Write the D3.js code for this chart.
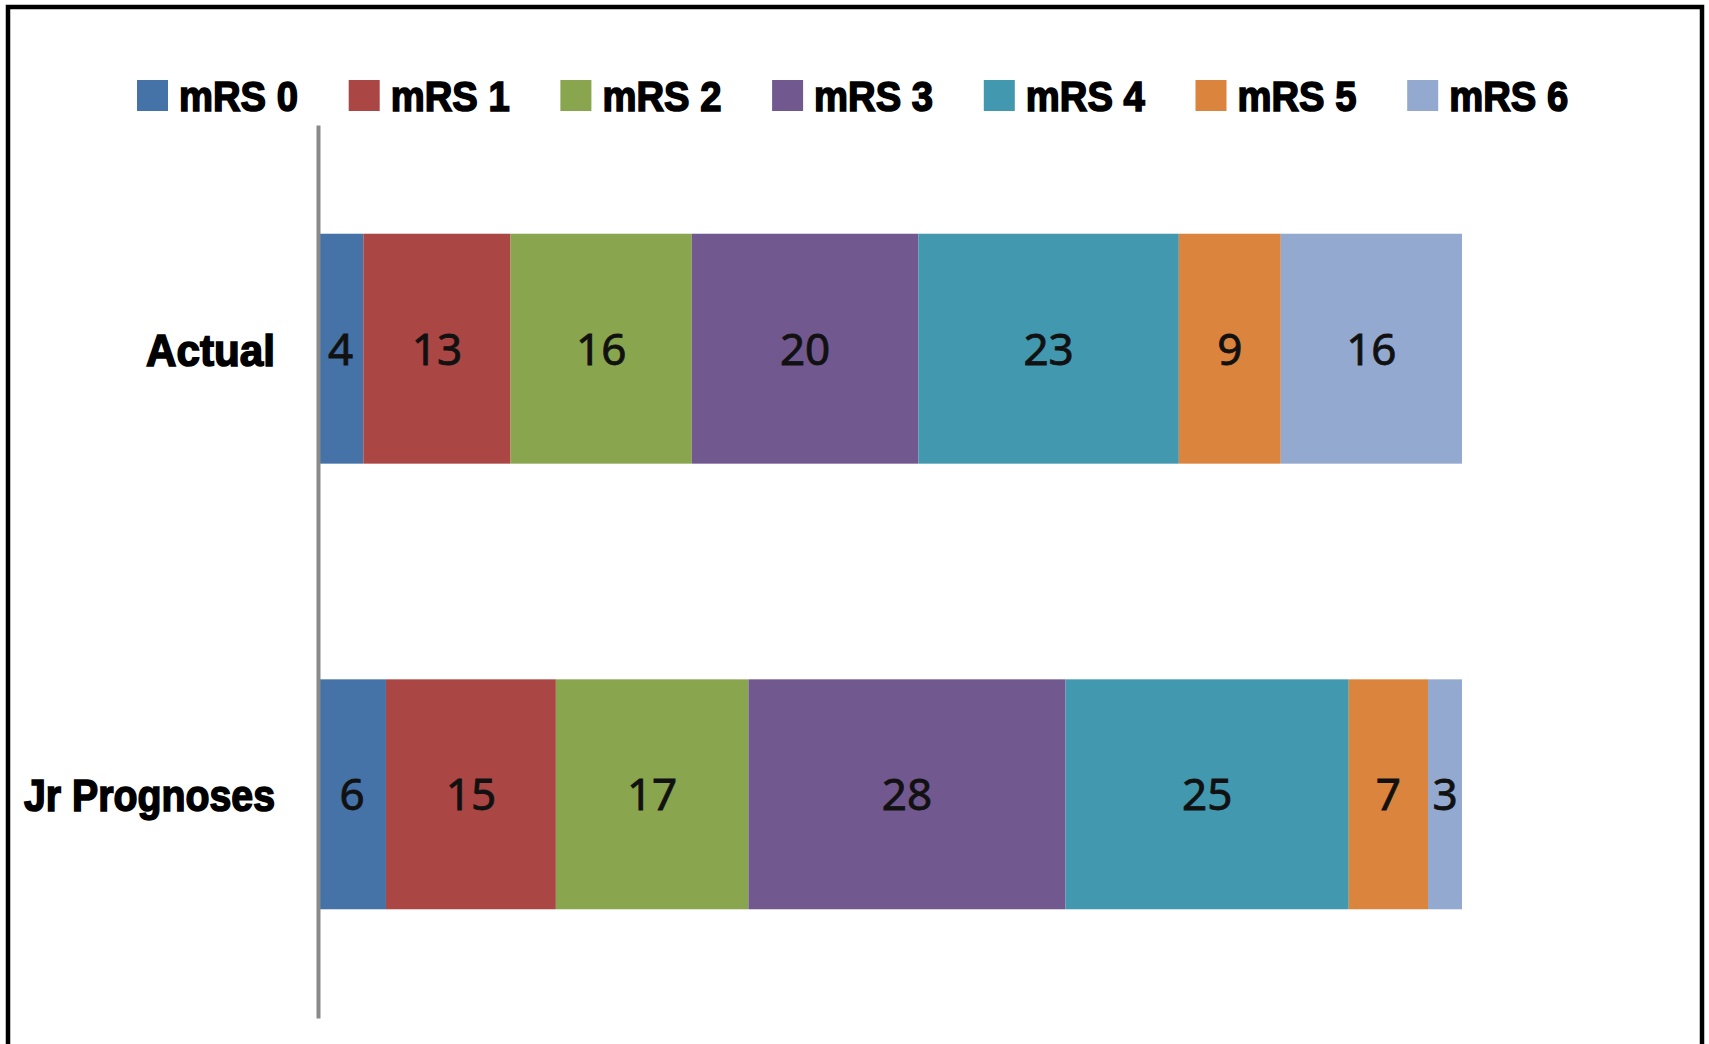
<!DOCTYPE html>
<html>
<head>
<meta charset="utf-8">
<script src="https://cdn.jsdelivr.net/npm/d3@7"></script>
<style>
  body { margin: 0; background: #fff; }
</style>
</head>
<body>
<div id="chart"></div>
<script>
const categories = ['Actual', 'Jr Prognoses'];
const seriesNames = ['mRS 0', 'mRS 1', 'mRS 2', 'mRS 3', 'mRS 4', 'mRS 5', 'mRS 6'];
const actualValues = [4, 13, 16, 20, 23, 9, 16];
const prognosisValues = [6, 15, 17, 28, 25, 7, 3];
const colors = ['#4572A7', '#AA4643', '#89A54E', '#71588F', '#4198AF', '#DB843D', '#93A9CF'];

const width = 1709;
const height = 1044;

// rows for d3.stack
const valuesByCategory = [actualValues, prognosisValues];
const rows = categories.map((c, i) => {
    const row = { category: c };
    seriesNames.forEach((s, j) => row[s] = valuesByCategory[i][j]);
    return row;
});

const stacked = d3.stack().keys(seriesNames)(rows);
const maxTotal = d3.max(valuesByCategory, v => d3.sum(v));

const xScale = d3.scaleLinear()
                .domain([0, maxTotal])
                .range([318, 1462]);
const yScale = d3.scaleBand()
                .domain(categories)
                .range([125, 1018])
                .paddingInner(0.484)
                .paddingOuter(0.244);
const colorScale = d3.scaleOrdinal().domain(seriesNames).range(colors);

const svg = d3.select('#chart')
            .append('svg')
            .attr('width', width)
            .attr('height', height);

// outer frame
svg.append('rect')
    .attr('x', 8)
    .attr('y', 7)
    .attr('width', 1694)
    .attr('height', 1060)
    .attr('fill', '#fff')
    .attr('stroke', '#000')
    .attr('stroke-width', 4.5);

// bars
const layers = svg.append('g')
    .selectAll('g')
    .data(stacked)
    .enter()
    .append('g')
    .attr('fill', d => colorScale(d.key));

layers.selectAll('rect')
    .data(d => d)
    .enter()
    .append('rect')
    .attr('x', d => xScale(d[0]))
    .attr('y', d => yScale(d.data.category))
    .attr('width', d => xScale(d[1]) - xScale(d[0]))
    .attr('height', yScale.bandwidth());

// value labels
layers.selectAll('text')
    .data(d => d.map(p => ({ p: p, key: d.key })))
    .enter()
    .append('text')
    .attr('x', d => (xScale(d.p[0]) + xScale(d.p[1])) / 2)
    .attr('y', d => yScale(d.p.data.category) + yScale.bandwidth() / 2 + 16)
    .attr('text-anchor', 'middle')
    .attr('fill', '#111')
    .attr('stroke', '#111')
    .attr('stroke-width', 0.8)
    .style('font-family', '"Noto Sans", "Open Sans", sans-serif')
    .style('font-size', '44px')
    .text(d => d.p.data[d.key]);

// category axis
const yAxis = d3.axisLeft(yScale).tickSize(0).tickSizeOuter(0).tickPadding(43);
const axisG = svg.append('g')
    .attr('transform', 'translate(318, 0)')
    .call(yAxis);

axisG.select('.domain')
    .attr('stroke', '#8a8a8a')
    .attr('stroke-width', 4);

axisG.selectAll('.tick text')
    .attr('dy', null)
    .attr('y', 17)
    .attr('fill', '#000')
    .attr('stroke', '#000')
    .attr('stroke-width', 1.6)
    .style('font-family', '"Liberation Sans", Arial, sans-serif')
    .style('font-weight', 'bold')
    .style('font-size', '44px')
    .attr('lengthAdjust', 'spacingAndGlyphs')
    .attr('textLength', d => d === 'Actual' ? 129 : 251);

// legend
const legend = svg.append('g')
    .selectAll('g')
    .data(seriesNames)
    .enter()
    .append('g')
    .attr('transform', (d, i) => `translate(${137 + i * 211.7}, 80)`);

legend.append('rect')
    .attr('width', 31)
    .attr('height', 31)
    .attr('fill', d => colorScale(d));

legend.append('text')
    .attr('x', 42)
    .attr('y', 31)
    .attr('fill', '#000')
    .attr('stroke', '#000')
    .attr('stroke-width', 1.6)
    .style('font-family', '"Liberation Sans", Arial, sans-serif')
    .style('font-weight', 'bold')
    .style('font-size', '42px')
    .attr('lengthAdjust', 'spacingAndGlyphs')
    .attr('textLength', 119)
    .text(d => d);
</script>
</body>
</html>
